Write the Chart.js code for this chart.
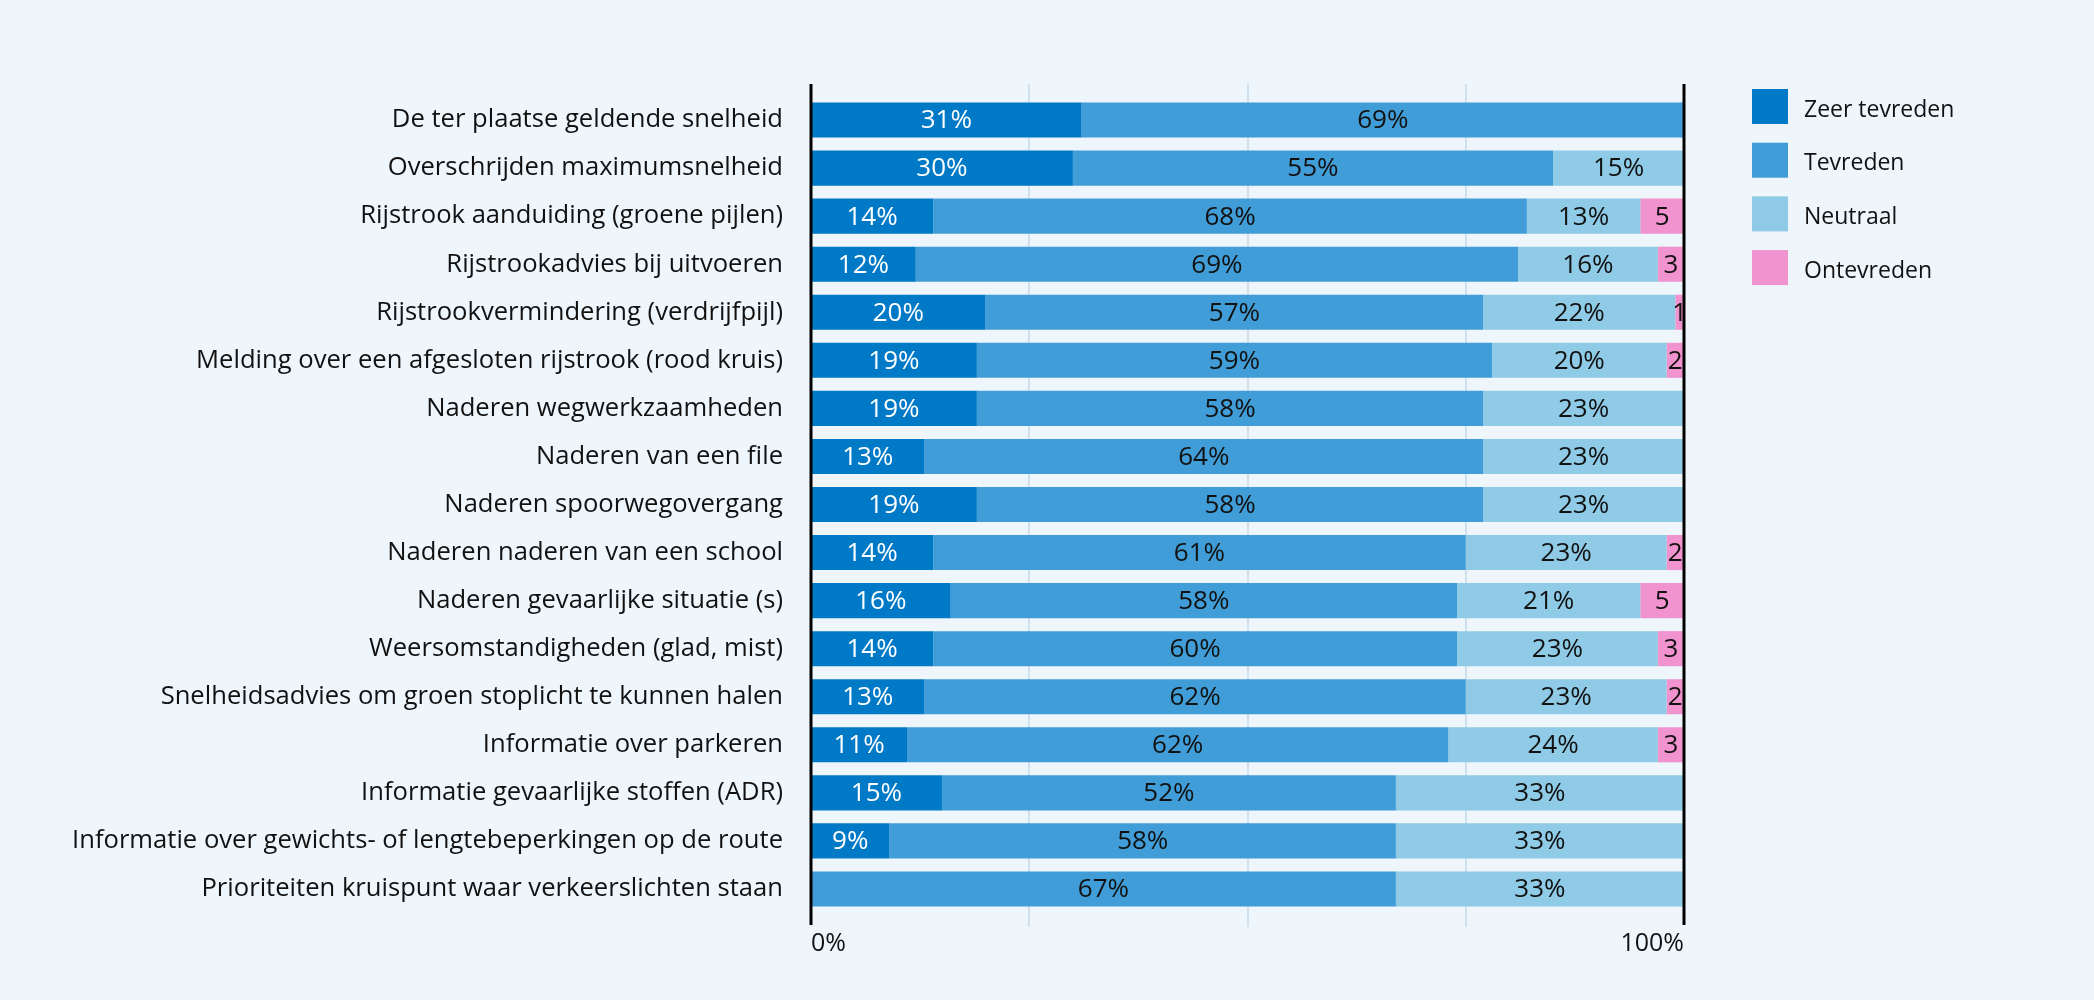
<!DOCTYPE html>
<html>
<head>
<meta charset="utf-8">
<script src="https://cdn.jsdelivr.net/npm/chart.js@4.4.1/dist/chart.umd.min.js"></script>
<style>
  html, body { margin: 0; padding: 0; background: #eef6fc; }
  #wrap { width: 2094px; height: 1000px; position: relative; }
</style>
</head>
<body>
<div id="wrap"><canvas id="chart"></canvas></div>
<script>
const categories = [
  'De ter plaatse geldende snelheid',
  'Overschrijden maximumsnelheid',
  'Rijstrook aanduiding (groene pijlen)',
  'Rijstrookadvies bij uitvoeren',
  'Rijstrookvermindering (verdrijfpijl)',
  'Melding over een afgesloten rijstrook (rood kruis)',
  'Naderen wegwerkzaamheden',
  'Naderen van een file',
  'Naderen spoorwegovergang',
  'Naderen naderen van een school',
  'Naderen gevaarlijke situatie (s)',
  'Weersomstandigheden (glad, mist)',
  'Snelheidsadvies om groen stoplicht te kunnen halen',
  'Informatie over parkeren',
  'Informatie gevaarlijke stoffen (ADR)',
  'Informatie over gewichts- of lengtebeperkingen op de route',
  'Prioriteiten kruispunt waar verkeerslichten staan'
];
const zeerTevreden = [31, 30, 14, 12, 20, 19, 19, 13, 19, 14, 16, 14, 13, 11, 15, 9, 0];
const tevreden     = [69, 55, 68, 69, 57, 59, 58, 64, 58, 61, 58, 60, 62, 62, 52, 58, 67];
const neutraal     = [0, 15, 13, 16, 22, 20, 23, 23, 23, 23, 21, 23, 23, 24, 33, 33, 33];
const ontevreden   = [0, 0, 5, 3, 1, 2, 0, 0, 0, 2, 5, 3, 2, 3, 0, 0, 0];
const seriesNames = ['Zeer tevreden', 'Tevreden', 'Neutraal', 'Ontevreden'];
const seriesColors = ['#0079c6', '#419dd7', '#8fcae6', '#f093cf'];
const xTickLabels = { 0: '0%', 100: '100%' };

const FONT = '"Open Sans", "Noto Sans", sans-serif';

// lijnen: rasterlijnen achter de balken, zwarte lijnen op 0 en 100 erboven
const frameLines = {
  id: 'frameLines',
  beforeDatasetsDraw(chart) {
    const { ctx, chartArea, scales } = chart;
    ctx.save();
    ctx.strokeStyle = '#cfe1ef';
    ctx.lineWidth = 2;
    [25, 50, 75].forEach(v => {
      const x = Math.round(scales.x.getPixelForValue(v));
      ctx.beginPath();
      ctx.moveTo(x, chartArea.top - 12);
      ctx.lineTo(x, chartArea.bottom + 14);
      ctx.stroke();
    });
    ctx.restore();
  },
  afterDatasetsDraw(chart) {
    const { ctx, chartArea, scales } = chart;
    ctx.save();
    ctx.strokeStyle = '#000';
    ctx.lineWidth = 3;
    [0, 100].forEach(v => {
      const x = scales.x.getPixelForValue(v);
      ctx.beginPath();
      ctx.moveTo(x, chartArea.top - 12);
      ctx.lineTo(x, chartArea.bottom + 12);
      ctx.stroke();
    });
    ctx.restore();
  }
};

// waarden in de balken
const barLabels = {
  id: 'barLabels',
  afterDatasetsDraw(chart) {
    const ctx = chart.ctx;
    ctx.save();
    ctx.font = '26px ' + FONT;
    ctx.textAlign = 'center';
    ctx.textBaseline = 'middle';
    chart.data.datasets.forEach((ds, di) => {
      const meta = chart.getDatasetMeta(di);
      meta.data.forEach((bar, i) => {
        const v = ds.data[i];
        if (!v) return;
        const txt = di === 3 ? String(v) : v + '%';
        ctx.fillStyle = di === 0 ? '#ffffff' : '#111111';
        ctx.fillText(txt, (bar.x + bar.base) / 2, bar.y + 1);
      });
    });
    ctx.restore();
  }
};

// legenda rechts
const sideLegend = {
  id: 'sideLegend',
  afterDraw(chart) {
    const ctx = chart.ctx;
    ctx.save();
    ctx.font = '23px ' + FONT;
    ctx.textBaseline = 'middle';
    ctx.textAlign = 'left';
    chart.data.datasets.forEach((ds, i) => {
      const y = 89 + i * 53.7;
      ctx.fillStyle = ds.backgroundColor;
      ctx.fillRect(1752, y, 36, 35);
      ctx.fillStyle = '#111111';
      ctx.fillText(ds.label, 1804, y + 21);
    });
    ctx.restore();
  }
};

new Chart(document.getElementById('chart'), {
  type: 'bar',
  data: {
    labels: categories,
    datasets: [zeerTevreden, tevreden, neutraal, ontevreden].map((d, i) => ({
      label: seriesNames[i],
      data: d,
      backgroundColor: seriesColors[i],
      borderWidth: 0,
      barPercentage: 0.73,
      categoryPercentage: 1
    }))
  },
  options: {
    indexAxis: 'y',
    responsive: true,
    maintainAspectRatio: false,
    animation: false,
    layout: { padding: { top: 96, right: 410, left: 0, bottom: 0 } },
    plugins: {
      legend: { display: false },
      tooltip: { enabled: false }
    },
    scales: {
      x: {
        stacked: true,
        min: 0,
        max: 100,
        grid: { display: false },
        border: { display: false },
        ticks: {
          stepSize: 25,
          autoSkip: false,
          maxRotation: 0,
          align: 'inner',
          padding: 8,
          color: '#111111',
          font: { family: FONT, size: 25 },
          callback: v => xTickLabels[v] || ''
        },
        afterFit: s => { s.height = 87; }
      },
      y: {
        stacked: true,
        grid: { display: false },
        border: { display: false },
        ticks: {
          padding: 20,
          autoSkip: false,
          color: '#111111',
          font: { family: FONT, size: 25.6 }
        },
        afterFit: s => { s.width = 811; }
      }
    }
  },
  plugins: [frameLines, barLabels, sideLegend]
});
</script>
</body>
</html>
